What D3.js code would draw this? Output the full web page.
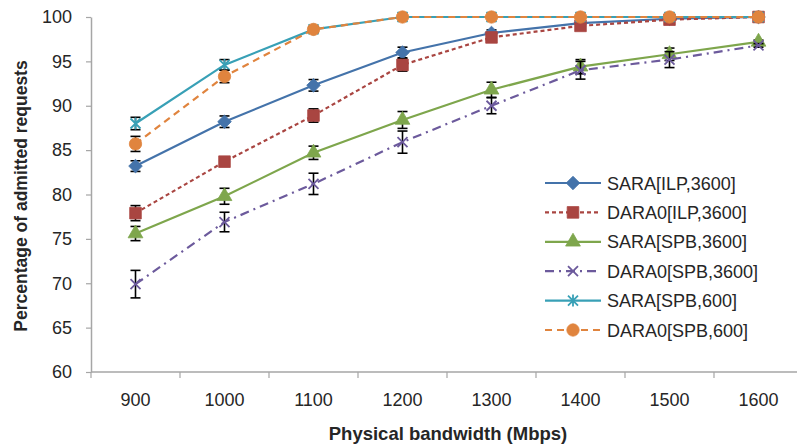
<!DOCTYPE html>
<html>
<head>
<meta charset="utf-8">
<script src="https://cdn.jsdelivr.net/npm/d3@7"></script>
<style>
  html, body { margin: 0; padding: 0; background: #fff; }
  svg { display: block; font-family: "Liberation Sans", Arial, sans-serif; }
</style>
</head>
<body>
<svg id="chart" width="797" height="448"></svg>
<script>
// Admission ratio versus physical bandwidth
const bandwidths = ["900", "1000", "1100", "1200", "1300", "1400", "1500", "1600"];
const yTicks = [60, 65, 70, 75, 80, 85, 90, 95, 100];

const seriesNames = [
  "SARA[ILP,3600]", "DARA0[ILP,3600]", "SARA[SPB,3600]",
  "DARA0[SPB,3600]", "SARA[SPB,600]", "DARA0[SPB,600]"
];

const saraIlp3600   = [83.2, 88.2, 92.3, 96.0, 98.2, 99.3, 99.8, 100.0];
const dara0Ilp3600  = [77.9, 83.7, 88.9, 94.6, 97.7, 99.0, 99.7, 100.0];
const saraSpb3600   = [75.6, 79.8, 84.7, 88.4, 91.8, 94.4, 95.8, 97.2];
const dara0Spb3600  = [69.9, 76.9, 81.2, 85.9, 90.0, 94.0, 95.2, 96.8];
const saraSpb600    = [88.0, 94.6, 98.6, 100.0, 100.0, 100.0, 100.0, 100.0];
const dara0Spb600   = [85.7, 93.3, 98.6, 100.0, 100.0, 100.0, 100.0, 100.0];

// half-width of the error bars
const errSaraIlp3600  = [0.6, 0.65, 0.65, 0.6, 0.35, 0.3, 0.2, 0.0];
const errDara0Ilp3600 = [0.85, 0.5, 0.75, 0.7, 0.4, 0.3, 0.2, 0.0];
const errSaraSpb3600  = [0.8, 0.9, 0.75, 0.95, 0.85, 0.8, 0.7, 0.2];
const errDara0Spb3600 = [1.55, 1.1, 1.2, 1.25, 0.9, 1.0, 0.9, 0.2];
const errSaraSpb600   = [0.7, 0.6, 0.3, 0.0, 0.0, 0.0, 0.0, 0.0];
const errDara0Spb600  = [0.85, 0.7, 0.3, 0.0, 0.0, 0.0, 0.0, 0.0];

const seriesValues = [saraIlp3600, dara0Ilp3600, saraSpb3600, dara0Spb3600, saraSpb600, dara0Spb600];
const seriesErrors = [errSaraIlp3600, errDara0Ilp3600, errSaraSpb3600, errDara0Spb3600, errSaraSpb600, errDara0Spb600];

const styles = [
  { color: "#4473AA", dash: null,           marker: "diamond"  },
  { color: "#A94541", dash: "4,3",          marker: "square"   },
  { color: "#7EA64C", dash: null,           marker: "triangle" },
  { color: "#6C5A9C", dash: "9,5,2,5",      marker: "x"        },
  { color: "#38A0B6", dash: null,           marker: "asterisk" },
  { color: "#E0843E", dash: "7,5",          marker: "circle"   }
];

const svg = d3.select("#chart");
const plotLeft = 91, plotBottom = 372, plotTop = 17, band = 89;

const x = d3.scaleBand().domain(bandwidths).range([plotLeft, plotLeft + band * bandwidths.length]);
const y = d3.scaleLinear().domain([60, 100]).range([plotBottom, plotTop]);
const cx = d => x(d) + x.bandwidth() / 2;

const axisColor = "#A6A6A6";
const textColor = "#262626";

// Y axis
const yAxis = svg.append("g")
  .attr("transform", `translate(${plotLeft},0)`)
  .call(d3.axisLeft(y).tickValues(yTicks).tickSize(5).tickPadding(14).tickSizeOuter(0));
yAxis.select(".domain").attr("stroke", axisColor).attr("stroke-width", 1.5);
yAxis.selectAll(".tick line").attr("stroke", axisColor).attr("stroke-width", 1.2);
yAxis.selectAll(".tick text").attr("fill", textColor)
  .style("font-size", "18px").style("font-family", "'Liberation Sans', Arial, sans-serif");

// X axis: ticks sit on the category boundaries
const xAxisG = svg.append("g").attr("transform", `translate(0,${plotBottom})`);
xAxisG.append("line")
  .attr("x1", plotLeft).attr("x2", plotLeft + band * bandwidths.length)
  .attr("y1", 0).attr("y2", 0)
  .attr("stroke", axisColor).attr("stroke-width", 1.5);
const boundaries = bandwidths.map(d => x(d)).concat([plotLeft + band * bandwidths.length]);
xAxisG.selectAll("line.tk").data(boundaries).join("line")
  .attr("class", "tk")
  .attr("x1", d => d).attr("x2", d => d)
  .attr("y1", 0).attr("y2", 6)
  .attr("stroke", axisColor).attr("stroke-width", 1.2);
xAxisG.selectAll("text").data(bandwidths).join("text")
  .attr("x", d => cx(d)).attr("y", 34)
  .attr("text-anchor", "middle")
  .attr("fill", textColor)
  .style("font-size", "18px")
  .text(d => d);

// Axis titles
svg.append("text")
  .attr("x", 448).attr("y", 440)
  .attr("text-anchor", "middle")
  .attr("fill", textColor)
  .style("font-size", "18.5px").style("font-weight", "bold")
  .text("Physical bandwidth (Mbps)");
svg.append("text")
  .attr("transform", "translate(27,196) rotate(-90)")
  .attr("text-anchor", "middle")
  .attr("fill", textColor)
  .style("font-size", "17.5px").style("font-weight", "bold")
  .text("Percentage of admitted requests");

// Marker shapes
function markerPath(kind) {
  switch (kind) {
    case "diamond":  return "M0,-6.8L6.8,0L0,6.8L-6.8,0Z";
    case "square":   return d3.symbol(d3.symbolSquare, 135)();
    case "triangle": return d3.symbol(d3.symbolTriangle, 95)();
    case "circle":   return d3.symbol(d3.symbolCircle, 120)();
    case "x":        return "M-5,-5L5,5M-5,5L5,-5";
    case "asterisk": return "M-5,-5L5,5M-5,5L5,-5M0,-6L0,6";
  }
}
function drawMarker(g, kind, color) {
  const p = g.append("path").attr("d", markerPath(kind));
  if (kind === "x" || kind === "asterisk") {
    p.attr("fill", "none").attr("stroke", color).attr("stroke-width", 1.8);
  } else {
    p.attr("fill", color).attr("stroke", color).attr("stroke-width", 0.8);
  }
  return p;
}

const line = d3.line().x(d => cx(d.cat)).y(d => y(d.v));
const plot = svg.append("g");

seriesValues.forEach((vals, i) => {
  const st = styles[i];
  const pts = vals.map((v, j) => ({ cat: bandwidths[j], v, e: seriesErrors[i][j] }));
  const g = plot.append("g");

  g.append("path")
    .datum(pts)
    .attr("d", line)
    .attr("fill", "none")
    .attr("stroke", st.color)
    .attr("stroke-width", 2.2)
    .attr("stroke-dasharray", st.dash);

  // error bars
  const eb = g.selectAll("g.err").data(pts.filter(p => p.e > 0)).join("g").attr("class", "err");
  eb.append("line")
    .attr("x1", d => cx(d.cat)).attr("x2", d => cx(d.cat))
    .attr("y1", d => y(Math.min(100, d.v + d.e))).attr("y2", d => y(d.v - d.e))
    .attr("stroke", "#000").attr("stroke-width", 1.6);
  eb.append("line")
    .attr("x1", d => cx(d.cat) - 5).attr("x2", d => cx(d.cat) + 5)
    .attr("y1", d => y(Math.min(100, d.v + d.e))).attr("y2", d => y(Math.min(100, d.v + d.e)))
    .attr("stroke", "#000").attr("stroke-width", 1.6);
  eb.append("line")
    .attr("x1", d => cx(d.cat) - 5).attr("x2", d => cx(d.cat) + 5)
    .attr("y1", d => y(d.v - d.e)).attr("y2", d => y(d.v - d.e))
    .attr("stroke", "#000").attr("stroke-width", 1.6);

  pts.forEach(p => {
    const m = g.append("g").attr("transform", `translate(${cx(p.cat)},${y(p.v)})`);
    drawMarker(m, st.marker, st.color);
  });
});

// Legend
const legend = svg.append("g").attr("transform", "translate(545,183)");
seriesNames.forEach((name, i) => {
  const st = styles[i];
  const row = legend.append("g").attr("transform", `translate(0,${i * 29.4})`);
  row.append("line")
    .attr("x1", 0).attr("x2", 56).attr("y1", 0).attr("y2", 0)
    .attr("stroke", st.color).attr("stroke-width", 2.2)
    .attr("stroke-dasharray", st.dash);
  const m = row.append("g").attr("transform", "translate(28,0)");
  drawMarker(m, st.marker, st.color);
  row.append("text")
    .attr("x", 62).attr("y", 6.5)
    .attr("fill", textColor)
    .style("font-size", "18px")
    .text(name);
});
</script>
</body>
</html>
